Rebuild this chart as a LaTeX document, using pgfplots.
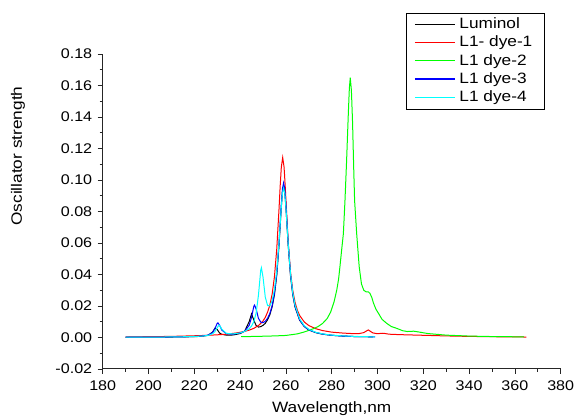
\documentclass[border=0pt]{standalone}
\usepackage{fontspec}
\setmainfont[FakeStretch=1.15]{Liberation Sans}
\usepackage{pgfplots}
\pgfplotsset{compat=1.18}
\definecolor{lred}{RGB}{255,0,0}
\definecolor{lgreen}{RGB}{0,255,0}
\definecolor{lblue}{RGB}{0,0,255}
\definecolor{lcyan}{RGB}{0,255,255}

\begin{document}
\begin{tikzpicture}[x=1pt,y=1pt]
\useasboundingbox (-102.7,-50) rectangle (474.3,369);
\begin{axis}[
    at={(0,0)}, anchor=south west,
    width=458pt, height=315pt, scale only axis,
    xmin=180, xmax=380, ymin=-0.02, ymax=0.18,
    axis lines=left,
    axis line style={-, line width=1pt, black!85},
    xtick={180,200,220,240,260,280,300,320,340,360,380},
    ytick={-0.02,0,0.02,0.04,0.06,0.08,0.1,0.12,0.14,0.16,0.18},
    minor x tick num=1, minor y tick num=1,
    tick align=outside,
    major tick length=5pt, minor tick length=3pt,
    tick style={line width=0.8pt, black!85},
    /pgf/number format/assume math mode=true,
    ticklabel style={font=\fontsize{14}{16}\selectfont},
    yticklabel style={xshift=-2pt, /pgf/number format/.cd, fixed, fixed zerofill, precision=2},
    xticklabel style={yshift=-3pt, /pgf/number format/.cd, set thousands separator={}},
    xlabel={Wavelength,nm},
    ylabel={Oscillator strength},
    label style={font=\fontsize{15}{17}\selectfont},
    xlabel style={at={(axis description cs:0.5,-0.126)}, anchor=center},
    ylabel style={at={(axis description cs:-0.185,0.676)}, anchor=center},
    legend image code/.code={%
        \draw[#1, line width=1.3pt] (0pt,0.5pt) -- (40pt,0.5pt);},
    legend style={
        at={(rel axis cs:0.6622,1.1292)}, anchor=north west,
        fill=white,
        font=\fontsize{15}{17}\selectfont,
        cells={anchor=west},
        inner xsep=8pt, inner ysep=3pt, row sep=1.8pt,
        nodes={inner ysep=1pt, inner xsep=4pt, text height=11pt, text depth=3.5pt},
    },
]
% Luminol
\addplot[black, line width=1pt, mark=none] coordinates {
(190,0.00015)(200,0.0002)(210,0.0003)(215,0.0004)(220,0.00054)(223,0.00073)
(226,0.00136)(228,0.00345)(229,0.0059)(230,0.0051)(231,0.0029)(232,0.0020)
(234,0.0015)(237,0.0016)(240,0.0025)(242,0.0040)(244,0.0102)(245,0.0150)
(246,0.0110)(247,0.0076)(248,0.0066)(249,0.0069)(250,0.0077)(251,0.0090)
(252,0.0113)(253,0.0145)(254,0.0195)(255,0.0272)(256,0.0395)(257,0.0587)
(258,0.0829)(258.5,0.0924)(259,0.0961)(259.5,0.0924)(260,0.0829)(261,0.0586)
(262,0.0394)(263,0.0271)(264,0.0193)(266,0.0110)(268,0.0070)(270,0.0048)
(273,0.0031)(276,0.0021)(280,0.0014)(285,0.0009)(290,0.0006)(295,0.0005)
(298,0.0004)
};
\addlegendentry{Luminol}
% L1- dye-1
\addplot[lred, line width=1pt, mark=none] coordinates {
(190,0.0004)(200,0.0005)(210,0.0007)(220,0.0011)(226,0.0014)(230,0.0017)
(234,0.0021)(238,0.0028)(240,0.0033)(242,0.0039)(244,0.0047)(246,0.0058)
(248,0.0076)(249,0.0089)(250,0.0105)(251,0.0128)(252,0.0161)(253,0.0206)
(254,0.0276)(255,0.0386)(256,0.0560)(257,0.0817)(257.5,0.0961)(258,0.1082)
(258.6,0.1143)(259.2,0.1082)(259.7,0.0961)(260,0.0877)(261,0.0607)(262,0.0417)
(263,0.0298)(264,0.0223)(265,0.0173)(266,0.0140)(268,0.0099)(270,0.0076)
(273,0.0056)(276,0.0044)(280,0.0034)(285,0.0028)(290,0.0024)(292,0.0025)
(294,0.0031)(295,0.0040)(296,0.0048)(297,0.0038)(298,0.0029)(300,0.0024)
(302,0.0027)(303,0.0026)(305,0.0021)(310,0.0018)(320,0.0014)(330,0.0010)
(340,0.0007)(350,0.0005)(365,0.0003)
};
\addlegendentry{L1- dye-1}
% L1 dye-2
\addplot[lgreen, line width=1pt, mark=none] coordinates {
(240.5,0.0005)(250,0.0008)(255,0.0010)(260,0.0013)(265,0.0023)(268,0.0035)
(270,0.0045)(272,0.0056)(274,0.0069)(276,0.0089)(278,0.0120)(279.5,0.0160)
(281,0.0225)(282.2,0.0300)(283,0.0370)(283.6,0.0450)(284.3,0.0550)(285.1,0.0660)
(285.8,0.0870)(286.5,0.1120)(287.2,0.1400)(287.7,0.1580)(288.1,0.1650)
(288.6,0.1570)(289.1,0.1370)(289.6,0.1080)(290.0,0.0870)(290.9,0.0660)
(292,0.0450)(293,0.0340)(294,0.0300)(295,0.0290)(296,0.0290)(296.7,0.0280)
(297.5,0.0255)(298.2,0.0220)(299.3,0.0180)(300.4,0.0154)(302,0.0115)
(304,0.0090)(306,0.0070)(308.4,0.0058)(311,0.0043)(313,0.0038)(315.8,0.0040)
(318,0.0035)(322,0.0025)(330,0.0015)(340,0.0009)(350,0.0006)(364,0.0004)
};
\addlegendentry{L1 dye-2}
% L1 dye-3
\addplot[lblue, line width=1pt, mark=none] coordinates {
(190,0.00016)(200,0.00021)(210,0.00033)(215,0.00043)(220,0.00062)(223,0.00086)
(226,0.0015)(228,0.0032)(229,0.0056)(230,0.0090)(230.3,0.0093)(231,0.0079)
(232,0.0047)(234,0.0024)(237,0.0021)(240,0.0028)(242,0.0040)(244,0.0078)
(245,0.0128)(246,0.0199)(246.3,0.0206)(247,0.0181)(248,0.0122)(249,0.0098)
(250,0.0094)(251,0.0103)(252,0.0122)(253,0.0153)(254,0.0202)(255,0.0280)
(256,0.0405)(257,0.0600)(258,0.0848)(258.5,0.0945)(259,0.0982)(259.5,0.0944)
(260,0.0847)(261,0.0599)(262,0.0403)(263,0.0278)(264,0.0197)(266,0.0112)
(268,0.0071)(270,0.0049)(273,0.0032)(276,0.0022)(280,0.0014)(285,0.0009)
(290,0.0006)(295,0.0005)(299,0.0004)
};
\addlegendentry{L1 dye-3}
% L1 dye-4
\addplot[lcyan, line width=1pt, mark=none] coordinates {
(190,0.00016)(200,0.00023)(210,0.00035)(215,0.00047)(220,0.00065)(223,0.00086)
(226,0.0013)(228,0.0024)(229,0.0037)(230,0.0063)(230.8,0.0079)(231,0.0078)
(232,0.0053)(234,0.0026)(237,0.0023)(240,0.0029)(242,0.0039)(244,0.0056)
(245,0.0073)(246,0.0101)(247,0.0155)(248,0.0267)(249,0.0426)(249.3,0.0443)
(250,0.0384)(251,0.0256)(252,0.0203)(253,0.0201)(254,0.0235)(255,0.0305)
(256,0.0421)(257,0.0603)(258,0.0831)(258.5,0.0917)(259,0.0949)(259.5,0.0916)
(260,0.0827)(261,0.0595)(262,0.0408)(263,0.0284)(264,0.0205)(266,0.0118)
(268,0.0075)(270,0.0052)(273,0.0033)(276,0.0023)(280,0.0015)(285,0.0010)
(290,0.0007)(295,0.0005)(299,0.0004)
};
\addlegendentry{L1 dye-4}
\end{axis}
\end{tikzpicture}
\end{document}
